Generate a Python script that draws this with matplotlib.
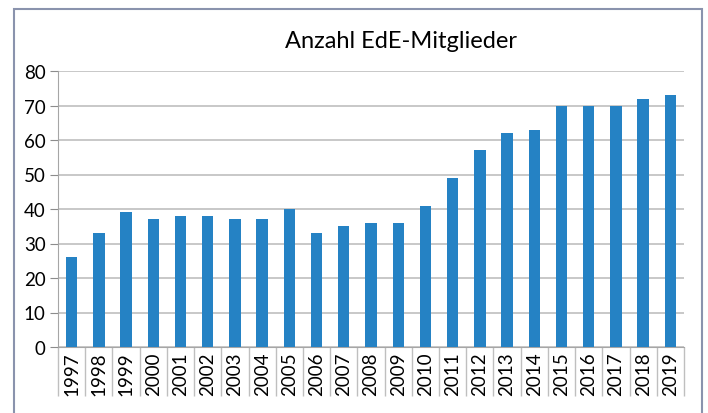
import matplotlib
matplotlib.use("Agg")
import matplotlib.pyplot as plt
from matplotlib.patches import Rectangle
import numpy as np

years = [str(y) for y in range(1997, 2020)]
members = [26, 33, 39, 37, 38, 38, 37, 37, 40, 33, 35, 36, 36, 41, 49, 57, 62, 63, 70, 70, 70, 72, 73]
yticks = [0, 10, 20, 30, 40, 50, 60, 70, 80]

plt.rcParams['font.family'] = ['Lato', 'DejaVu Sans']

fig = plt.figure(figsize=(7.08, 4.14), dpi=100)
W, H = 708, 414
fig.patches.append(Rectangle((14 / W, -0.1), (702 - 14) / W, 1.1 - 10 / H,
                             transform=fig.transFigure, fill=False,
                             edgecolor='#8a93ad', linewidth=1.5))

ax = fig.add_axes([58 / W, 1 - 348 / H, (684 - 58) / W, (348 - 72) / H])
x = np.arange(len(years))
ax.bar(x, members, width=0.42, color='#2582c4', zorder=3)
ax.set_xlim(-0.5, len(years) - 0.5)
ax.set_ylim(0, 80)
ax.set_yticks(yticks)
ax.tick_params(axis='y', labelsize=13.5, length=6, color='#8c8c8c', pad=3, labelcolor='#000000')
ax.yaxis.grid(True, color='#bfbfbf', linewidth=1.2, zorder=0)
ax.set_axisbelow(True)

ax.set_xticks(x)
ax.set_xticklabels(years, rotation=90, fontsize=13.5, va='top')
ax.tick_params(axis='x', which='major', length=0, pad=3)
ax.set_xticks(np.arange(-0.5, len(years), 1), minor=True)
ax.tick_params(axis='x', which='minor', length=35, color='#bfbfbf', width=1)

for s in ['top', 'right']:
    ax.spines[s].set_visible(False)
ax.spines['left'].set_color('#a6a6a6')
ax.spines['bottom'].set_color('#a6a6a6')

fig.text(401 / W, 1 - 42 / H, 'Anzahl EdE-Mitglieder', ha='center', va='center', fontsize=17)

fig.savefig('out.png', dpi=100)
